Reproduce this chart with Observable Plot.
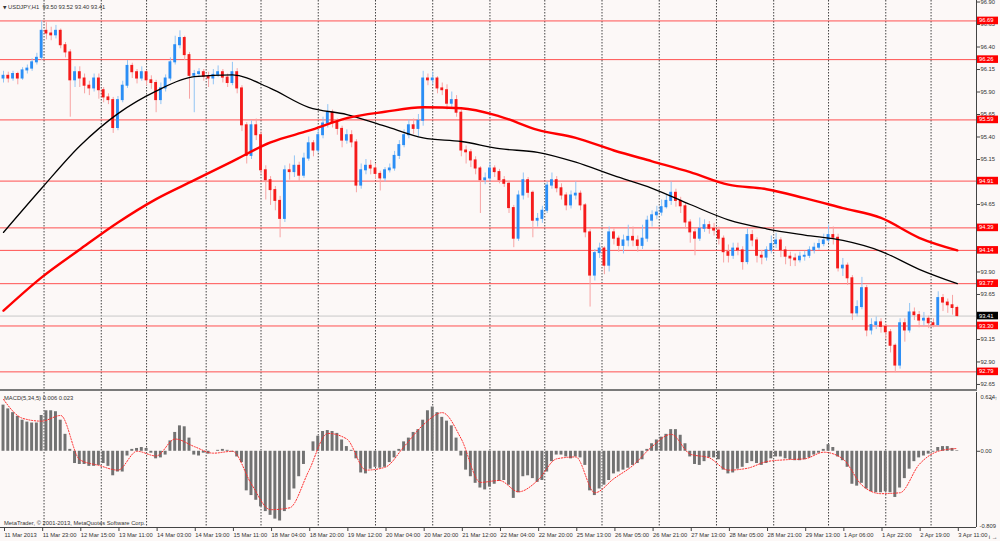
<!DOCTYPE html>
<html><head><meta charset="utf-8">
<script src="https://cdn.jsdelivr.net/npm/d3@7"></script>
<script src="https://cdn.jsdelivr.net/npm/@observablehq/plot@0.6"></script>
<style>
html,body{margin:0;padding:0;background:#fcf8f7;}
#wrap{position:relative;width:1000px;height:541px;overflow:hidden;background:#fcf8f7;font-family:"Liberation Sans",Arial,sans-serif;}
#main,#macd{position:absolute;left:0;}
#main{top:0}
#macd{top:392px}
.txt{position:absolute;font-size:5.8px;color:#333;white-space:pre;line-height:7px;}
.sep{position:absolute;left:0;width:977px;height:2px;top:389px;background:#7a7a7a;}
</style></head><body>
<div id="wrap">
<div id="main"></div><div id="macd"></div>
<div class="sep"></div>
<div class="txt" style="left:3px;top:4px"><span style="font-family:'DejaVu Sans';font-size:4.5px;">▼</span> USDJPY,H1  93.50 93.52 93.40 93.41</div>
<div class="txt" style="left:4px;top:395px">MACD(5,34,5) 0.006 0.023</div>
<div class="txt" style="left:4px;top:520px">MetaTrader, © 2001-2013, MetaQuotes Software Corp.</div>
</div>
<script>
// ---- data (hourly bars, drawn as 2-hour candles; bar index = 2*k) ----
const firstOpen = 96.05;
const closes = [
96.08,96.05,96.10,96.05,96.14,96.16,96.23,96.28,96.58,96.55,
96.53,96.58,96.42,96.34,96.03,96.12,96.05,95.97,95.94,96.05,
95.92,95.84,95.81,95.50,95.81,95.97,96.19,96.12,96.05,96.12,
96.03,96.00,95.81,95.94,96.05,96.23,96.42,96.50,96.31,96.08,
96.10,96.12,96.07,96.05,96.09,96.12,96.06,96.00,96.12,95.94,
95.53,95.19,95.53,95.42,95.03,94.92,94.81,94.69,94.49,95.03,
95.01,95.08,94.97,95.16,95.33,95.25,95.42,95.55,95.67,95.56,
95.49,95.36,95.42,95.34,94.86,95.03,95.08,95.05,94.99,94.94,
95.03,95.05,95.19,95.31,95.42,95.53,95.49,95.58,96.05,96.03,
96.05,95.94,95.92,95.77,95.81,95.67,95.25,95.23,95.14,95.05,
94.92,94.94,95.05,95.01,94.92,94.88,94.61,94.27,94.75,94.92,
94.78,94.47,94.49,94.58,94.86,94.92,94.83,94.75,94.64,94.75,
94.77,94.64,94.34,93.86,94.11,94.16,93.97,94.34,94.27,94.19,
94.25,94.29,94.25,94.19,94.27,94.47,94.53,94.56,94.62,94.69,
94.78,94.69,94.63,94.45,94.34,94.27,94.38,94.42,94.38,94.36,
94.27,94.12,94.08,94.16,94.14,94.01,94.31,94.25,94.08,94.06,
94.14,94.21,94.25,94.14,94.07,94.05,94.03,94.07,94.08,94.14,
94.17,94.21,94.25,94.31,94.28,93.94,93.97,93.83,93.44,93.51,
93.72,93.25,93.31,93.34,93.29,93.23,93.08,92.86,93.33,93.25,
93.45,93.42,93.36,93.38,93.33,93.31,93.61,93.56,93.53,93.50,
93.41];
const highs = [
96.13,96.12,96.13,96.12,96.17,96.20,96.27,96.33,96.69,96.67,
96.62,96.64,96.60,96.45,96.37,96.18,96.18,96.10,96.02,96.10,
96.10,95.95,95.88,95.84,95.85,96.02,96.25,96.22,96.15,96.18,
96.14,96.08,96.03,96.00,96.09,96.28,96.52,96.58,96.52,96.34,
96.14,96.16,96.15,96.12,96.15,96.19,96.15,96.10,96.23,96.16,
95.97,95.56,95.58,95.60,95.46,95.08,94.96,94.85,94.74,95.08,
95.10,95.19,95.12,95.22,95.40,95.36,95.48,95.62,95.76,95.70,
95.60,95.52,95.48,95.47,95.37,95.10,95.15,95.14,95.10,95.02,
95.06,95.10,95.24,95.36,95.48,95.59,95.60,95.65,96.13,96.10,
96.12,96.07,96.00,95.98,95.90,95.86,95.70,95.30,95.26,95.18,
95.07,95.00,95.12,95.08,95.04,94.96,94.90,94.64,94.80,95.00,
94.95,94.80,94.55,94.63,94.90,95.00,94.96,94.88,94.78,94.80,
94.90,94.80,94.66,94.37,94.15,94.22,94.18,94.40,94.38,94.30,
94.31,94.42,94.40,94.30,94.42,94.52,94.58,94.63,94.70,94.75,
94.90,94.82,94.73,94.66,94.48,94.38,94.50,94.48,94.46,94.44,
94.40,94.30,94.20,94.22,94.22,94.18,94.38,94.36,94.28,94.14,
94.18,94.30,94.33,94.28,94.18,94.12,94.10,94.12,94.13,94.18,
94.22,94.26,94.32,94.42,94.40,94.32,94.05,94.00,93.86,93.58,
93.84,93.75,93.38,93.40,93.38,93.32,93.26,93.10,93.38,93.38,
93.55,93.50,93.46,93.45,93.41,93.38,93.68,93.65,93.60,93.64,
93.52];
const lows = [
96.00,96.00,96.02,95.98,96.03,96.10,96.13,96.20,96.25,96.48,
96.47,96.49,96.38,96.28,95.62,95.95,95.95,95.88,95.86,95.90,
95.82,95.78,95.76,95.44,95.47,95.78,95.94,96.05,95.99,96.02,
95.97,95.93,95.67,95.76,95.90,96.02,96.20,96.38,96.25,95.82,
95.67,96.06,96.02,95.95,95.98,96.06,96.00,95.95,95.97,95.88,
95.46,95.10,95.15,95.36,94.98,94.70,94.64,94.58,94.28,94.45,
94.92,94.95,94.90,94.94,95.13,95.18,95.22,95.38,95.50,95.50,
95.42,95.28,95.32,95.28,94.78,94.82,94.98,94.98,94.93,94.80,
94.90,95.00,95.02,95.15,95.28,95.38,95.43,95.40,95.52,95.97,
95.98,95.88,95.86,95.70,95.72,95.62,95.18,95.10,95.06,94.98,
94.55,94.87,94.90,94.95,94.88,94.84,94.55,94.17,94.24,94.70,
94.72,94.28,94.40,94.44,94.55,94.82,94.78,94.70,94.58,94.60,
94.70,94.58,94.28,93.51,93.80,94.05,93.87,93.90,94.20,94.12,
94.10,94.18,94.18,94.12,94.15,94.23,94.40,94.48,94.52,94.60,
94.64,94.62,94.55,94.38,94.22,94.08,94.24,94.34,94.32,94.30,
94.20,94.00,94.00,94.04,94.08,93.92,93.98,94.18,94.00,93.98,
94.02,94.10,94.16,94.06,93.98,93.96,93.96,94.00,94.02,94.05,
94.10,94.14,94.18,94.22,94.20,93.90,93.85,93.75,93.36,93.40,
93.48,93.18,93.20,93.26,93.22,93.15,93.00,92.78,92.82,93.12,
93.22,93.36,93.28,93.30,93.27,93.28,93.29,93.46,93.44,93.42,
93.40];
// moving averages, every 16 bars
const maBlack = [94.34,94.83,95.30,95.66,95.91,96.07,96.09,95.94,95.73,95.65,95.52,95.39,95.35,95.27,95.23,95.12,94.97,94.83,94.65,94.48,94.38,94.31,94.25,94.13,93.93,93.77];
const maRed   = [93.47,93.84,94.15,94.45,94.71,94.92,95.13,95.34,95.47,95.61,95.68,95.73,95.72,95.63,95.48,95.39,95.25,95.13,95.01,94.87,94.82,94.72,94.61,94.50,94.28,94.14];
// MACD histogram (every 2 bars) and signal (every 8 bars)
const macdMain = [
0.49,0.45,0.41,0.37,0.33,0.31,0.30,0.30,0.38,0.43,
0.43,0.42,0.33,0.18,0.02,-0.13,-0.14,-0.14,-0.16,-0.16,
-0.15,-0.13,-0.16,-0.26,-0.22,-0.22,-0.05,0.02,0.03,0.04,
0.03,-0.02,-0.08,-0.07,-0.04,0.11,0.20,0.27,0.26,0.14,
-0.04,-0.05,-0.02,-0.03,0.00,0.01,0.02,0.01,-0.01,-0.06,
-0.12,-0.42,-0.47,-0.52,-0.59,-0.64,-0.68,-0.72,-0.74,-0.64,
-0.52,-0.40,-0.27,-0.14,0.00,0.10,0.16,0.21,0.22,0.21,
0.19,0.12,0.05,0.01,-0.08,-0.23,-0.24,-0.19,-0.17,-0.18,
-0.17,-0.12,-0.07,0.02,0.10,0.14,0.20,0.23,0.33,0.43,
0.47,0.41,0.36,0.32,0.27,0.14,-0.05,-0.20,-0.27,-0.34,
-0.39,-0.41,-0.38,-0.35,-0.32,-0.31,-0.36,-0.50,-0.44,-0.27,
-0.26,-0.29,-0.33,-0.31,-0.22,-0.11,-0.04,-0.04,-0.06,-0.08,
-0.06,-0.07,-0.15,-0.42,-0.47,-0.40,-0.36,-0.31,-0.24,-0.22,
-0.20,-0.18,-0.15,-0.13,-0.09,0.02,0.08,0.12,0.15,0.18,
0.23,0.23,0.17,0.08,-0.06,-0.14,-0.15,-0.11,-0.07,-0.07,
-0.09,-0.20,-0.24,-0.23,-0.19,-0.17,-0.13,-0.11,-0.13,-0.15,
-0.13,-0.08,-0.06,-0.06,-0.08,-0.09,-0.10,-0.10,-0.09,-0.07,
-0.04,-0.02,0.02,0.07,0.04,-0.06,-0.10,-0.17,-0.35,-0.37,
-0.34,-0.40,-0.43,-0.44,-0.44,-0.43,-0.44,-0.49,-0.39,-0.29,
-0.19,-0.11,-0.07,-0.05,-0.03,-0.01,0.04,0.05,0.05,0.03,
0.006];
const macdSignal = [0.55,0.35,0.32,0.38,-0.09,-0.15,-0.20,0.00,-0.05,0.13,0.05,-0.02,0.00,-0.35,-0.62,-0.60,-0.21,0.19,0.13,-0.20,-0.17,0.05,0.28,0.41,0.13,-0.33,-0.31,-0.43,-0.31,-0.08,-0.06,-0.44,-0.29,-0.15,0.05,0.18,-0.03,-0.07,-0.20,-0.18,-0.11,-0.09,-0.08,-0.01,-0.08,-0.36,-0.45,-0.44,-0.14,0.00,0.03];
// horizontal levels, visible price ticks, time labels
const levels = [96.69,96.26,95.59,94.91,94.39,94.14,93.77,93.30,92.79];
const lastPrice = 93.41;
const priceTicks = [96.90,96.65,96.40,96.15,95.90,95.65,95.40,95.15,94.65,93.90,93.65,93.15,92.90,92.65];
const timeLabels = ["11 Mar 2013","11 Mar 23:00","12 Mar 15:00","13 Mar 11:00","14 Mar 03:00","14 Mar 19:00","15 Mar 11:00","18 Mar 04:00","18 Mar 20:00","19 Mar 12:00","20 Mar 04:00","20 Mar 20:00","21 Mar 12:00","22 Mar 04:00","22 Mar 20:00","25 Mar 13:00","26 Mar 05:00","26 Mar 21:00","27 Mar 13:00","28 Mar 05:00","28 Mar 21:00","29 Mar 13:00","1 Apr 06:00","1 Apr 22:00","2 Apr 19:00","3 Apr 11:00"];
const daySeparators = [17,41,60,85,108,132,156,180,204,227,251,275,299,323,346,370,389];

// ---- build tables ----
const candles = closes.map((c,k)=>{
  const o = k===0 ? firstOpen : closes[k-1];
  return {i:2*k, o, c, h:Math.max(highs[k],o,c), l:Math.min(lows[k],o,c), up:c>=o};
});
const up = candles.filter(d=>d.up), dn = candles.filter(d=>!d.up);
const ma = maBlack.map((v,j)=>({i:16*j, black:v, red:maRed[j]}));
const hist = macdMain.map((v,k)=>({i:2*k, v}));
const sig = macdSignal.map((v,m)=>({i:8*m, v}));
const labelIdx = timeLabels.map((_,j)=>16*j);
const labelMap = new Map(labelIdx.map((d,j)=>[d,timeLabels[j]]));

const FONT = "Liberation Sans, Arial, sans-serif";
const xDom = [-1.26, 408.05];
const grid = {stroke:"#444", strokeDasharray:"1.5,1.5", strokeWidth:1};

const main = Plot.plot({
  width:1000, height:389, marginLeft:0, marginRight:24, marginTop:0, marginBottom:0,
  x:{domain:xDom, axis:null},
  y:{domain:[92.594, 96.917]},
  style:{background:"transparent", fontFamily:FONT, fontSize:"5.8px", color:"#333", overflow:"visible"},
  marks:[
    Plot.ruleX(daySeparators, grid),
    Plot.ruleY(levels, {stroke:"#ff5050", strokeWidth:1}),
    Plot.ruleY([lastPrice], {stroke:"#c8c8c8", strokeWidth:1}),
    Plot.ruleX(up, {x:"i", y1:"l", y2:"h", stroke:"#93c5f4", strokeWidth:1}),
    Plot.ruleX(dn, {x:"i", y1:"l", y2:"h", stroke:"#f7a3a3", strokeWidth:1}),
    Plot.rect(up, {x1:d=>d.i-0.6, x2:d=>d.i+0.6, y1:"o", y2:"c", fill:"#2b8ef5", insetTop:-0.5, insetBottom:-0.5}),
    Plot.rect(dn, {x1:d=>d.i-0.6, x2:d=>d.i+0.6, y1:"o", y2:"c", fill:"#f51b1b", insetTop:-0.5, insetBottom:-0.5}),
    Plot.line(ma, {x:"i", y:"black", stroke:"#000", strokeWidth:1.3, curve:"monotone-x"}),
    Plot.line(ma, {x:"i", y:"red", stroke:"#ff0000", strokeWidth:2.4, curve:"monotone-x"}),
    Plot.axisY({anchor:"right", ticks:priceTicks, tickFormat:d=>d.toFixed(2), tickSize:3, tickPadding:1, stroke:"#444"}),
    Plot.ruleX([xDom[1]], {stroke:"#444", strokeWidth:1})
  ]
});
document.getElementById("main").appendChild(main);

// price label boxes on the right axis
const yS = main.scale("y");
const g = d3.select(main).append("g").attr("font-family",FONT).attr("font-size","5.8px").attr("text-anchor","start");
levels.concat([lastPrice]).forEach(v=>{
  const yy = yS.apply(v);
  const isLast = v===lastPrice;
  g.append("rect").attr("x",977).attr("y",yy-3.8).attr("width",21).attr("height",7.6).attr("fill",isLast?"#000":"#ff0000");
  g.append("text").attr("x",979).attr("y",yy).attr("dy","0.35em").attr("text-anchor","start").attr("fill","#fff").text(v.toFixed(2));
});

const macdPlot = Plot.plot({
  width:1000, height:149, marginLeft:0, marginRight:24, marginTop:0, marginBottom:14,
  x:{domain:xDom},
  y:{domain:[-0.809, 0.624], axis:null},
  style:{background:"transparent", fontFamily:FONT, fontSize:"5.8px", color:"#333", overflow:"visible"},
  marks:[
    Plot.ruleX(daySeparators, grid),
    Plot.rect(hist, {x1:d=>d.i-0.62, x2:d=>d.i+0.62, y1:0, y2:"v", fill:"#727272"}),
    Plot.line(sig, {x:"i", y:"v", stroke:"#ff2a2a", strokeWidth:1, strokeDasharray:"1.2,1.6", curve:"monotone-x"}),
    Plot.axisY({anchor:"right", ticks:[0], tickFormat:()=>"0.00", tickSize:3, tickPadding:1, stroke:"#444"}),
    Plot.text([0.624], {y:d=>d, text:()=>"0.624", frameAnchor:"right", textAnchor:"start", dx:4, dy:4.5, fill:"#333"}),
    Plot.text([-0.809], {y:d=>d, text:()=>"-0.809", frameAnchor:"right", textAnchor:"start", dx:3, dy:-1, fill:"#333"}),
    Plot.axisX({anchor:"bottom", ticks:labelIdx, tickFormat:d=>labelMap.get(d), textAnchor:"start", tickSize:4, tickPadding:1, dx:1, stroke:"#444"}),
    Plot.ruleY([-0.809], {stroke:"#444", strokeWidth:1}),
    Plot.ruleX([xDom[1]], {stroke:"#444", strokeWidth:1})
  ]
});
document.getElementById("macd").appendChild(macdPlot);
</script>
</body></html>
